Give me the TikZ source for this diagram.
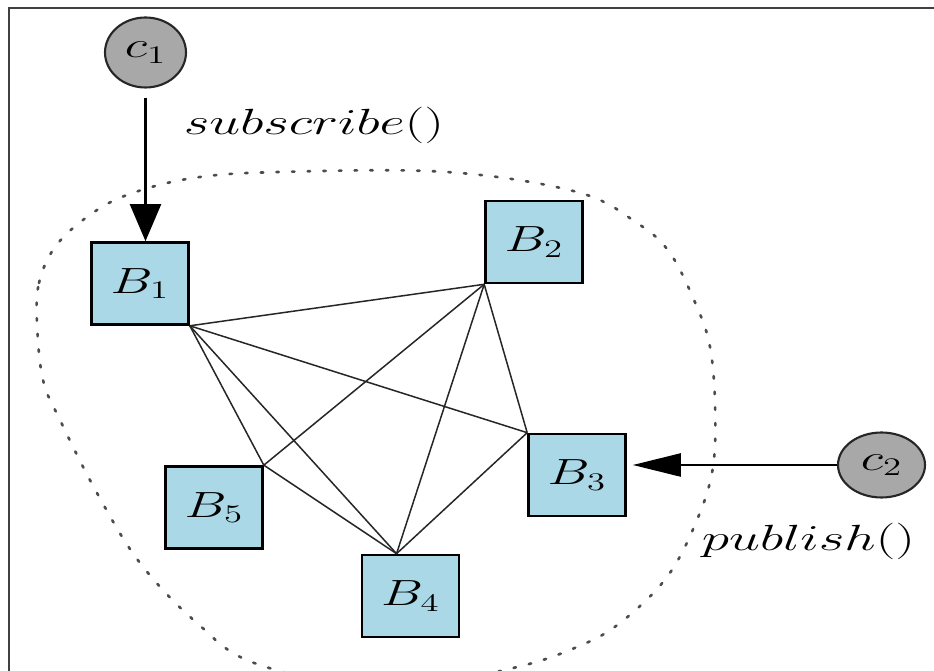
\documentclass[tikz,border=0pt]{standalone}
\usetikzlibrary{arrows.meta,calc,shapes.geometric}
\definecolor{boxblue}{RGB}{170,216,230}
\definecolor{cgray}{RGB}{168,168,168}
\newcommand{\wlab}[1]{\scalebox{1.45}[1]{\fontsize{20.8}{25}\selectfont$#1$}}
\newcommand{\wtxt}[1]{\scalebox{1.52}[1]{\fontsize{20.8}{25}\selectfont$#1$}}
\begin{document}
\begin{tikzpicture}[x=0.02cm,y=-0.02cm,
  broker/.style={draw=black, line width=1.5pt, fill=boxblue, minimum width=1.94cm, minimum height=1.64cm, inner sep=0pt},
  client/.style={ellipse, draw=black!85, line width=1.2pt, fill=cgray, inner sep=0pt},
  link/.style={line width=0.85pt, black!85},
  callarrow/.style={line width=1.3pt, black},
  lab/.style={inner sep=0pt},
  blob/.style={line width=1.5pt, black!70, dash pattern=on 1.4pt off 7.5pt, line cap=round}]
\useasboundingbox (0,0) rectangle (934,671);
\fill[white] (0,0) rectangle (934,671);
% frame
\draw[line width=1.5pt, black!75] (9,671) -- (9,8) -- (934,8);
% dotted region
\begin{scope}
\clip (0,0) rectangle (934,671);
\draw[blob] plot[smooth cycle, tension=0.6] coordinates {
 (37,323) (39,283) (55,247) (87,217) (127,195) (193,178) (280,172) (447,172)
 (577,192) (637,223) (670,253) (697,307) (710,347) (715,403) (713,467)
 (697,520) (667,577) (620,623) (577,647) (513,668) (390,690) (257,664)
 (197,623) (140,563) (97,493) (60,420) (43,380)};
\end{scope}
% brokers
\node[broker] (B1) at (140,283.5) {\wlab{B_1}};
\node[broker] (B2) at (534,242) {\wlab{B_2}};
\node[broker] (B3) at (577,475) {\wlab{B_3}};
\node[broker] (B5) at (214,507.5) {\wlab{B_5}};
\node[broker] (B4) at (410.5,596) {\wlab{B_4}};
\coordinate (B4top) at ($(B4.north west)!0.36!(B4.north east)$);
% links
\draw[link] (B1.south east) -- (B2.south west);
\draw[link] (B1.south east) -- (B3.north west);
\draw[link] (B1.south east) -- (B4top);
\draw[link] (B1.south east) -- (B5.north east);
\draw[link] (B2.south west) -- (B5.north east);
\draw[link] (B2.south west) -- (B4top);
\draw[link] (B2.south west) -- (B3.north west);
\draw[link] (B3.north west) -- (B4top);
\draw[link] (B5.north east) -- (B4top);
% clients
\node[client, minimum width=1.62cm, minimum height=1.40cm] (c1) at (145.5,52.5) {\wlab{c_1}};
\node[client, minimum width=1.74cm, minimum height=1.30cm] (c2) at (881.5,465) {\wlab{c_2}};
% calls
\draw[callarrow, shorten <=0.18cm, -{Triangle[length=0.74cm,width=0.62cm]}] (c1.south) -- (c1.south |- B1.north);
\draw[callarrow, shorten >=0.12cm, -{Triangle[length=0.96cm,width=0.46cm]}] (c2.west) -- (c2.west -| B3.east);
% labels
\node[lab, anchor=base] (sub) at (314,135) {\wtxt{subscribe()}};
\node[lab, anchor=base] (pub) at (808.5,551) {\wtxt{publish()}};
\end{tikzpicture}
\end{document}
